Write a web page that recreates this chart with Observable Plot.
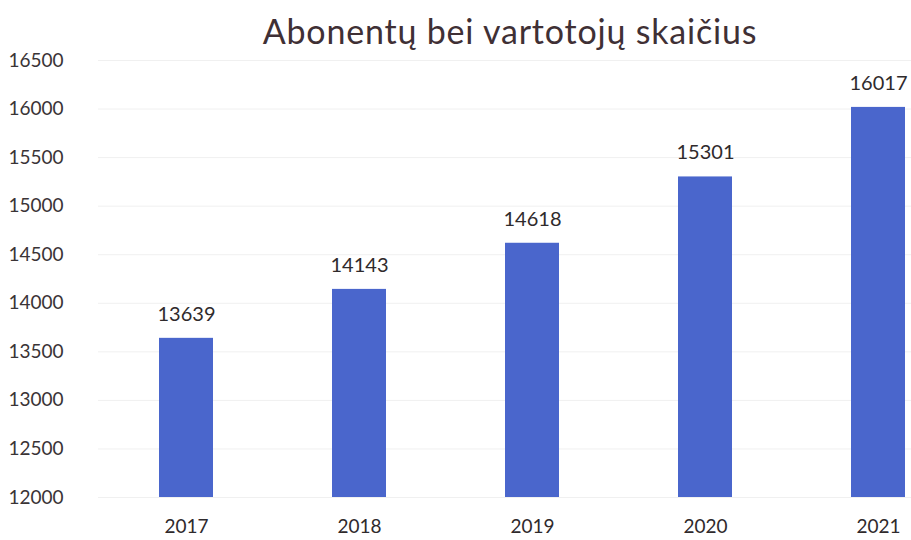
<!DOCTYPE html>
<html>
<head>
<meta charset="utf-8">
<script src="https://cdn.jsdelivr.net/npm/d3@7"></script>
<script src="https://cdn.jsdelivr.net/npm/@observablehq/plot@0.6"></script>
<style>
  html, body { margin: 0; padding: 0; background: #fff; }
  #wrap { position: relative; width: 911px; height: 540px; overflow: hidden; }
  #title { position: absolute; top: 10px; left: 0; width: 1020px; text-align: center;
           font-family: Lato, "Open Sans", sans-serif; font-size: 34px; font-weight: 400; color: #3f3035; letter-spacing: 0.8px; }
</style>
</head>
<body>
<div id="wrap">
  <div id="title">Abonentų bei vartotojų skaičius</div>
  <div id="chart"></div>
</div>
<script>
const years = ["2017", "2018", "2019", "2020", "2021"];
const values = [13639, 14143, 14618, 15301, 16017];
const yTicks = [12000, 12500, 13000, 13500, 14000, 14500, 15000, 15500, 16000, 16500];

const data = years.map((y, i) => ({year: y, value: values[i]}));

const chart = Plot.plot({
  width: 911,
  height: 540,
  marginTop: 60,
  marginBottom: 43,
  marginLeft: 98,
  marginRight: 0,
  style: {fontFamily: "Lato, 'Open Sans', sans-serif", color: "#2f2a2c", background: "transparent"},
  x: {domain: years, range: [98, 965], paddingInner: 0.69, paddingOuter: 0.345, label: null},
  y: {domain: [12000, 16500], label: null},
  marks: [
    Plot.gridY(yTicks, {stroke: "#f0f0f0", strokeOpacity: 1}),
    Plot.barY(data, {x: "year", y1: 12000, y2: "value", fill: "#4a66cc"}),
    Plot.text(data, {x: "year", y: "value", text: d => String(d.value), dy: -24, fontSize: 20, fill: "#2f2a2c"}),
    Plot.axisY(yTicks, {tickSize: 0, tickPadding: 35, fontSize: 19, tickFormat: d => String(d), fill: "#3a3436"}),
    Plot.axisX({tickSize: 0, tickPadding: 22, fontSize: 19, fill: "#2f2a2c"})
  ]
});
document.getElementById("chart").appendChild(chart);
</script>
</body>
</html>
